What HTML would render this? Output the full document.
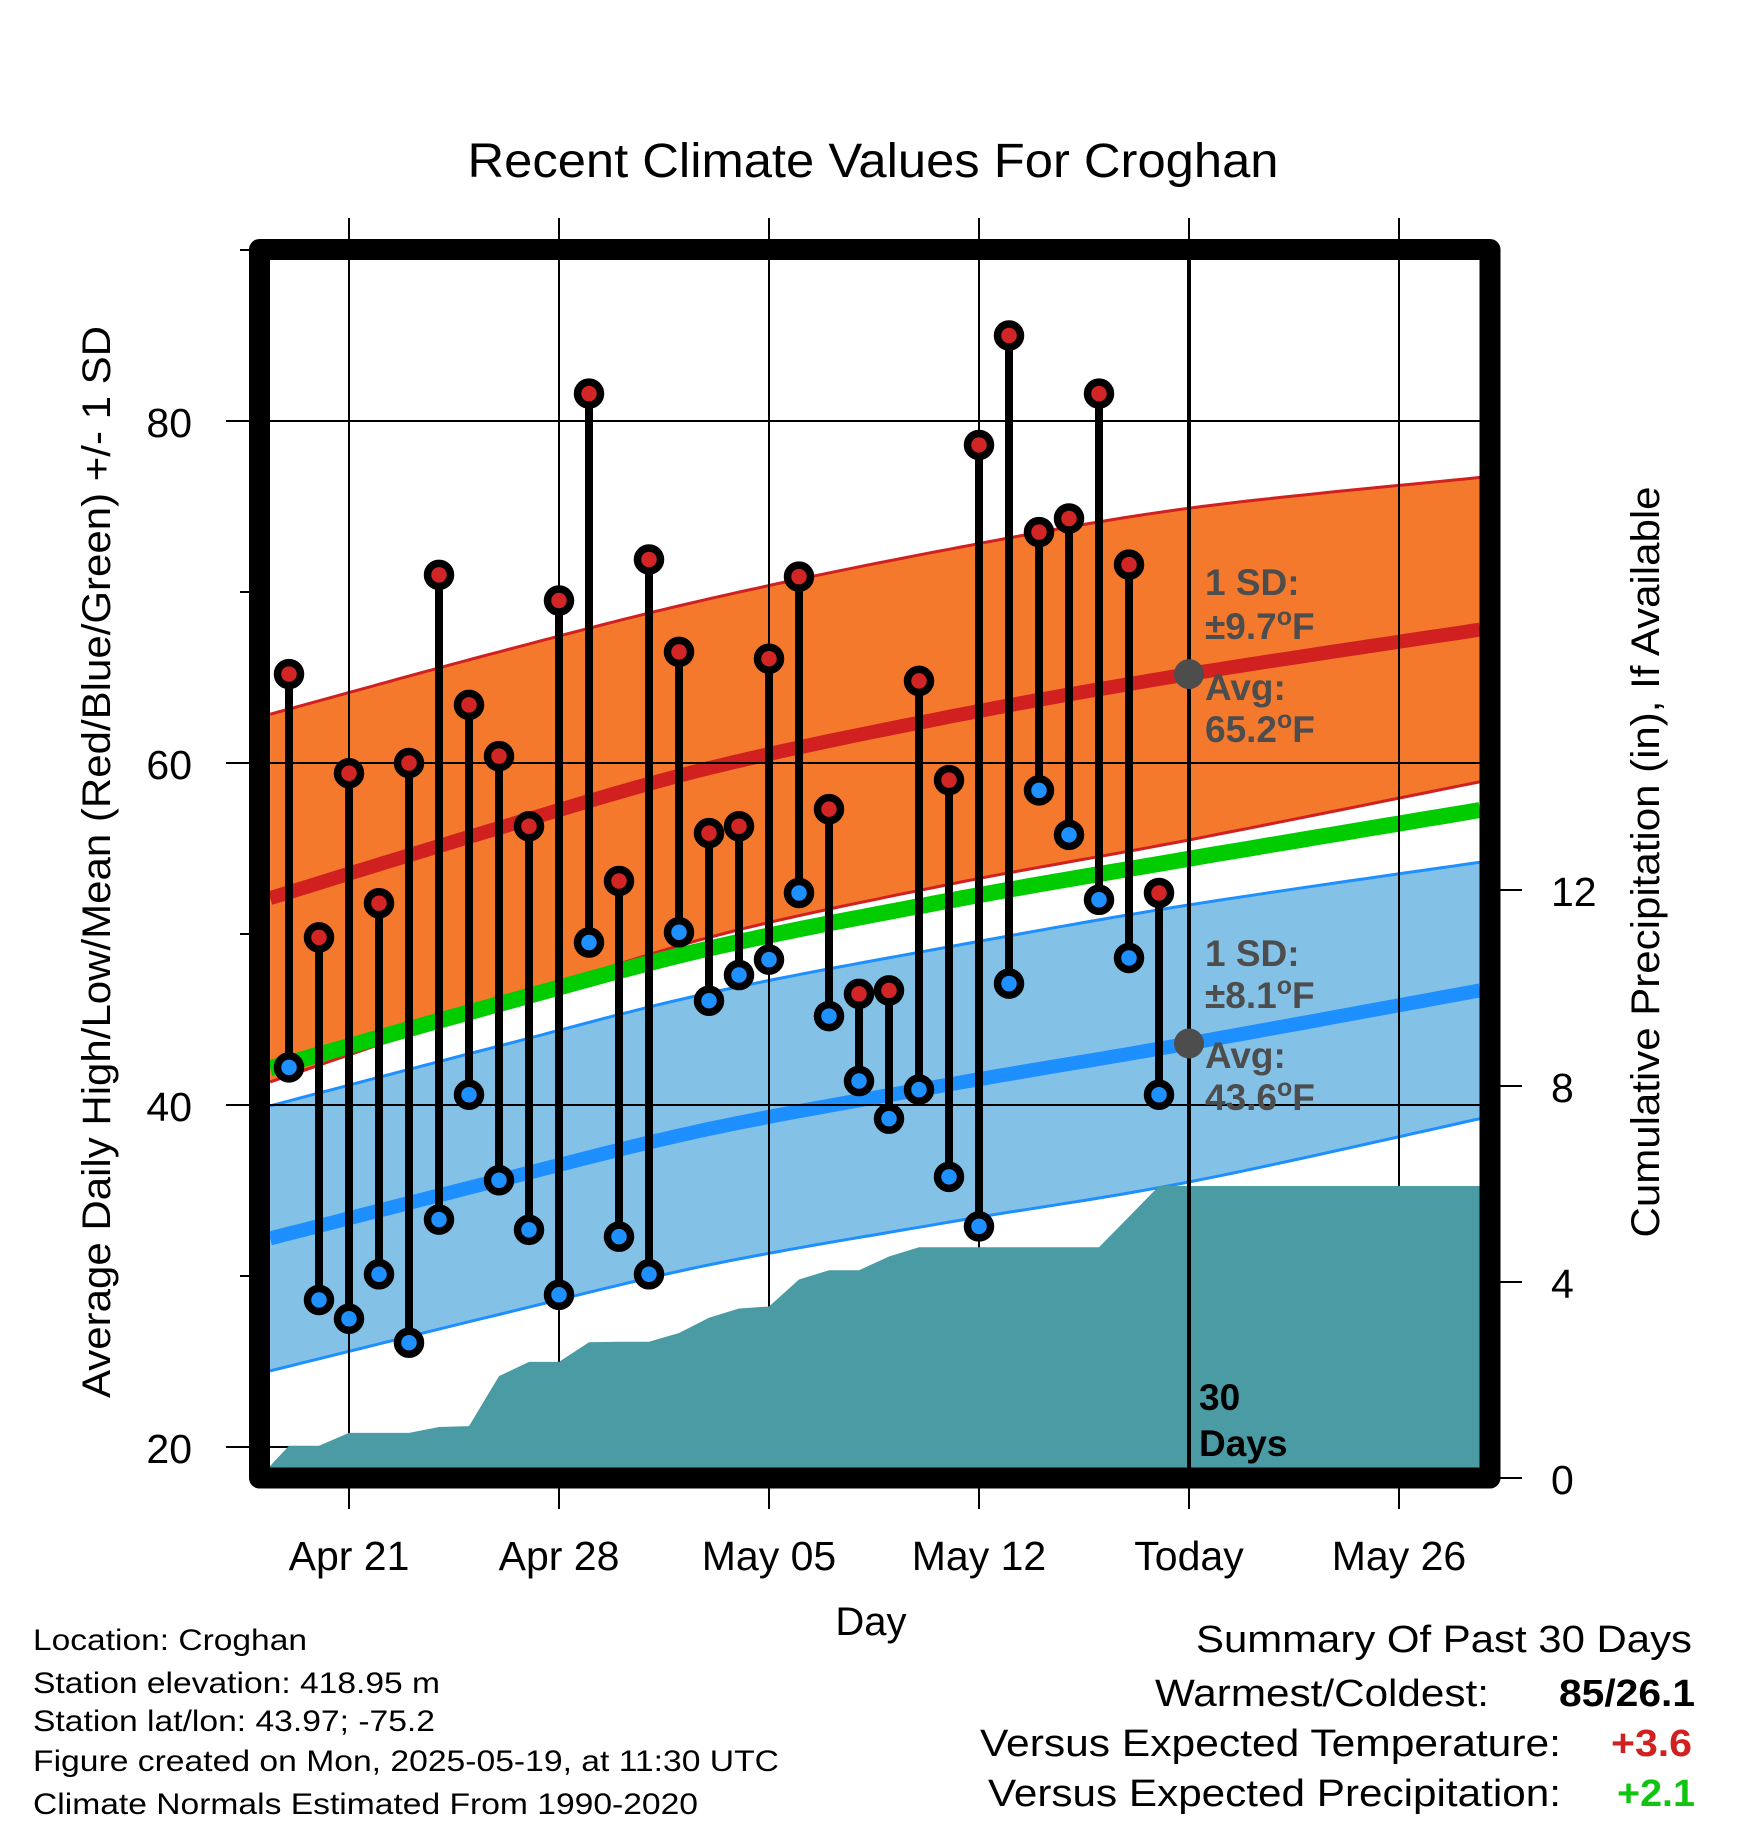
<!DOCTYPE html>
<html><head><meta charset="utf-8"><style>
html,body{margin:0;padding:0;background:#fff}
svg{display:block;font-family:"Liberation Sans",Arial,sans-serif}
</style></head><body>
<svg id="chart" width="1748" height="1828" viewBox="0 0 1748 1828" xmlns="http://www.w3.org/2000/svg">
<g id="layer-bands"></g>
<g id="layer-grid"></g>
<g id="layer-precip"></g>
<g id="layer-annot" font-weight="bold" fill="#4d4d4d" font-size="37">
  <text x="1205" y="595">1 SD:</text>
  <text x="1205" y="639">±9.7<tspan font-size="25" dy="-14">o</tspan><tspan dy="14">F</tspan></text>
  <text x="1205" y="700">Avg:</text>
  <text x="1205" y="742">65.2<tspan font-size="25" dy="-14">o</tspan><tspan dy="14">F</tspan></text>
  <text x="1205" y="966">1 SD:</text>
  <text x="1205" y="1008">±8.1<tspan font-size="25" dy="-14">o</tspan><tspan dy="14">F</tspan></text>
  <text x="1205" y="1068">Avg:</text>
  <text x="1205" y="1110">43.6<tspan font-size="25" dy="-14">o</tspan><tspan dy="14">F</tspan></text>
  <text x="1199" y="1410" fill="#000">30</text>
  <text x="1199" y="1456" fill="#000">Days</text>
</g>
<g id="layer-data"></g>
<g id="layer-axes" font-size="41"></g>
<rect x="259.5" y="249.5" width="1230.5" height="1228.5" fill="none" stroke="#000" stroke-width="21" stroke-linejoin="round"/>
<text x="873" y="177" text-anchor="middle" font-size="48" textLength="811" lengthAdjust="spacingAndGlyphs">Recent Climate Values For Croghan</text>
<text x="871" y="1635" text-anchor="middle" font-size="40">Day</text>
<text transform="translate(110,862) rotate(-90)" text-anchor="middle" font-size="40" textLength="1072" lengthAdjust="spacingAndGlyphs">Average Daily High/Low/Mean (Red/Blue/Green) +/- 1 SD</text>
<text transform="translate(1659,862) rotate(-90)" text-anchor="middle" font-size="40" textLength="751" lengthAdjust="spacingAndGlyphs">Cumulative Precipitation (in), If Available</text>
<g font-size="30">
  <text x="33" y="1650" textLength="274" lengthAdjust="spacingAndGlyphs">Location: Croghan</text>
  <text x="33" y="1693" textLength="407" lengthAdjust="spacingAndGlyphs">Station elevation: 418.95 m</text>
  <text x="33" y="1731" textLength="402" lengthAdjust="spacingAndGlyphs">Station lat/lon: 43.97; -75.2</text>
  <text x="33" y="1771" textLength="746" lengthAdjust="spacingAndGlyphs">Figure created on Mon, 2025-05-19, at 11:30 UTC</text>
  <text x="33" y="1814" textLength="665" lengthAdjust="spacingAndGlyphs">Climate Normals Estimated From 1990-2020</text>
</g>
<g font-size="38">
  <text x="1196" y="1652" textLength="496" lengthAdjust="spacingAndGlyphs">Summary Of Past 30 Days</text>
  <text x="1155" y="1706" textLength="334" lengthAdjust="spacingAndGlyphs">Warmest/Coldest:</text>
  <text x="1559" y="1706" font-weight="bold" textLength="136" lengthAdjust="spacingAndGlyphs">85/26.1</text>
  <text x="980" y="1756" textLength="581" lengthAdjust="spacingAndGlyphs">Versus Expected Temperature:</text>
  <text x="1611" y="1756" font-weight="bold" fill="#d02020" textLength="81" lengthAdjust="spacingAndGlyphs">+3.6</text>
  <text x="988" y="1806" textLength="573" lengthAdjust="spacingAndGlyphs">Versus Expected Precipitation:</text>
  <text x="1617" y="1806" font-weight="bold" fill="#11c411" textLength="78" lengthAdjust="spacingAndGlyphs">+2.1</text>
</g>
</svg>
<script>
// ---- data ----
const dayLabels = ["Apr 19","Apr 20","Apr 21","Apr 22","Apr 23","Apr 24","Apr 25","Apr 26","Apr 27","Apr 28","Apr 29","Apr 30","May 01","May 02","May 03","May 04","May 05","May 06","May 07","May 08","May 09","May 10","May 11","May 12","May 13","May 14","May 15","May 16","May 17","May 18"];
const highs = [65.2,49.8,59.4,51.8,60.0,71.0,63.4,60.4,56.3,69.5,81.6,53.1,71.9,66.5,55.9,56.3,66.1,70.9,57.3,46.5,46.7,64.8,59.0,78.6,85.0,73.5,74.3,81.6,71.6,52.4];
const lows = [42.2,28.6,27.5,30.1,26.1,33.3,40.6,35.6,32.7,28.9,49.5,32.3,30.1,50.1,46.1,47.6,48.5,52.4,45.2,41.4,39.2,40.9,35.8,32.9,47.1,58.4,55.8,52.0,48.6,40.6];
const cumPrecip = [0.66,0.66,0.92,0.92,0.92,1.04,1.06,2.08,2.37,2.37,2.77,2.78,2.78,2.96,3.27,3.46,3.50,4.05,4.24,4.24,4.52,4.71,4.71,4.71,4.71,4.71,4.71,4.71,5.33,5.96];
const normDays = [-0.63,7,14,22,30,39.7];
const normHigh = [52.1,56.2,59.7,62.7,65.2,67.8];
const sdHigh = [10.75,10.3,9.9,9.8,9.7,8.9];
const normLow = [32.2,35.6,38.6,41.2,43.6,46.7];
const sdLow = [7.75,7.85,7.95,8.05,8.1,7.5];
const yTicks = [20,40,60,80];
const yMinorTicks = [30,50,70,90];
const precipTicks = [0,4,8,12];
const xTickDays = [2,9,16,23,30,37];
const xTickLabels = ["Apr 21","Apr 28","May 05","May 12","Today","May 26"];
const todayDay = 30;

// ---- scales ----
const X0 = 270, X1 = 1480, Y0 = 260, Y1 = 1468;
const xs = d => 289 + 30 * d;
const ys = t => 421 + (80 - t) * 17.1;
const yp = p => 1478 - p * 49;
const NS = "http://www.w3.org/2000/svg";
function mk(tag, attrs, parent) {
  const e = document.createElementNS(NS, tag);
  for (const k in attrs) e.setAttribute(k, attrs[k]);
  parent.appendChild(e);
  return e;
}
const bands = document.getElementById('layer-bands');
const grid = document.getElementById('layer-grid');
const prec = document.getElementById('layer-precip');
const dat = document.getElementById('layer-data');
const axes = document.getElementById('layer-axes');

// smooth curve (Catmull-Rom) through the normal sample points
function curvePts(vals) {
  const P = normDays.map((d, i) => [xs(d), ys(vals[i])]);
  const out = [];
  for (let i = 0; i < P.length - 1; i++) {
    const p0 = P[Math.max(0, i - 1)], p1 = P[i], p2 = P[i + 1], p3 = P[Math.min(P.length - 1, i + 2)];
    for (let s = 0; s < 20; s++) {
      const t = s / 20, t2 = t * t, t3 = t2 * t;
      const f = k => 0.5 * ((2 * p1[k]) + (-p0[k] + p2[k]) * t + (2 * p0[k] - 5 * p1[k] + 4 * p2[k] - p3[k]) * t2 + (-p0[k] + 3 * p1[k] - 3 * p2[k] + p3[k]) * t3);
      out.push(f(0).toFixed(1) + ',' + f(1).toFixed(1));
    }
  }
  const L = P[P.length - 1];
  out.push(L[0].toFixed(1) + ',' + L[1].toFixed(1));
  return out;
}
function bandPath(mean, sd) {
  const up = mean.map((m, i) => m + sd[i]);
  const dn = mean.map((m, i) => m - sd[i]);
  return { up, dn, d: 'M' + curvePts(up).join(' L') + ' L' + curvePts(dn).reverse().join(' L') + ' Z' };
}
const hb = bandPath(normHigh, sdHigh);
let e = mk('path', { d: hb.d, fill: '#f4792d' }, bands);


[hb.up, hb.dn].forEach(v => {
  const l = mk('polyline', { points: curvePts(v).join(' '), fill: 'none', stroke: '#d02020', 'stroke-width': 3 }, bands);
  
  
});
const lb = bandPath(normLow, sdLow);
e = mk('path', { d: lb.d, fill: '#84c1e7' }, bands);


[lb.up, lb.dn].forEach(v => {
  const l = mk('polyline', { points: curvePts(v).join(' '), fill: 'none', stroke: '#1e8fff', 'stroke-width': 3 }, bands);
  
  
});
const normMean = normHigh.map((h, i) => (h + normLow[i]) / 2);
e = mk('polyline', { points: curvePts(normMean).join(' '), fill: 'none', stroke: '#00cc00', 'stroke-width': 16 }, bands);


e = mk('polyline', { points: curvePts(normHigh).join(' '), fill: 'none', stroke: '#d02020', 'stroke-width': 14 }, bands);


e = mk('polyline', { points: curvePts(normLow).join(' '), fill: 'none', stroke: '#1e8fff', 'stroke-width': 14 }, bands);



// grid + ticks
yTicks.forEach(t => {
  const l = mk('line', { x1: 226, x2: X1, y1: ys(t), y2: ys(t), stroke: '#000', 'stroke-width': 2 }, grid);
  
  
  const tx = mk('text', { x: 192, y: ys(t) + 16, 'text-anchor': 'end' }, axes);
  tx.textContent = t;
  
  
});
yMinorTicks.forEach(t => {
  const l = mk('line', { x1: 240, x2: 252, y1: ys(t), y2: ys(t), stroke: '#000', 'stroke-width': 2 }, grid);
  
  
});
xTickDays.forEach((d, i) => {
  const l = mk('line', { x1: xs(d), x2: xs(d), y1: 218, y2: 1509, stroke: '#000', 'stroke-width': 2 }, grid);
  
  
  const tx = mk('text', { x: xs(d), y: 1570, 'text-anchor': 'middle' }, axes);
  tx.textContent = xTickLabels[i];
  
  
});
precipTicks.forEach(p => {
  const l = mk('line', { x1: 1498, x2: 1522, y1: yp(p), y2: yp(p), stroke: '#000', 'stroke-width': 2 }, axes);
  
  
  const tx = mk('text', { x: 1551, y: yp(p) + 16 }, axes);
  tx.textContent = p;
  
  
});

// precipitation area
const pts = [[X0, yp(0)], [X0, yp(cumPrecip[0] * (1 + (X0 - 289) / 30))]];
cumPrecip.forEach((p, i) => pts.push([xs(i), yp(p)]));
pts.push([X1, yp(cumPrecip[cumPrecip.length - 1])]);
pts.push([X1, yp(0)]);
e = mk('polygon', { points: pts.map(p => p[0].toFixed(1) + ',' + p[1].toFixed(1)).join(' '), fill: '#4a9ba3' }, prec);



// today line
e = mk('line', { x1: xs(todayDay), x2: xs(todayDay), y1: Y0, y2: Y1, stroke: '#000', 'stroke-width': 4 }, prec);



// data stems and markers
highs.forEach((h, i) => {
  const g = mk('g', {}, dat);
  
  
  const s = mk('line', { x1: xs(i), x2: xs(i), y1: ys(h), y2: ys(lows[i]), stroke: '#000', 'stroke-width': 8 }, g);
  
  
  const c1 = mk('circle', { cx: xs(i), cy: ys(h), r: 11.5, fill: '#d22525', stroke: '#000', 'stroke-width': 7.5 }, g);
  
  
  const c2 = mk('circle', { cx: xs(i), cy: ys(lows[i]), r: 11.5, fill: '#1e90ff', stroke: '#000', 'stroke-width': 7.5 }, g);
  
  
});
e = mk('circle', { cx: xs(todayDay), cy: ys(normHigh[4]), r: 15, fill: '#4d4d4d' }, dat);


e = mk('circle', { cx: xs(todayDay), cy: ys(normLow[4]), r: 15, fill: '#4d4d4d' }, dat);


</script>
</body></html>
